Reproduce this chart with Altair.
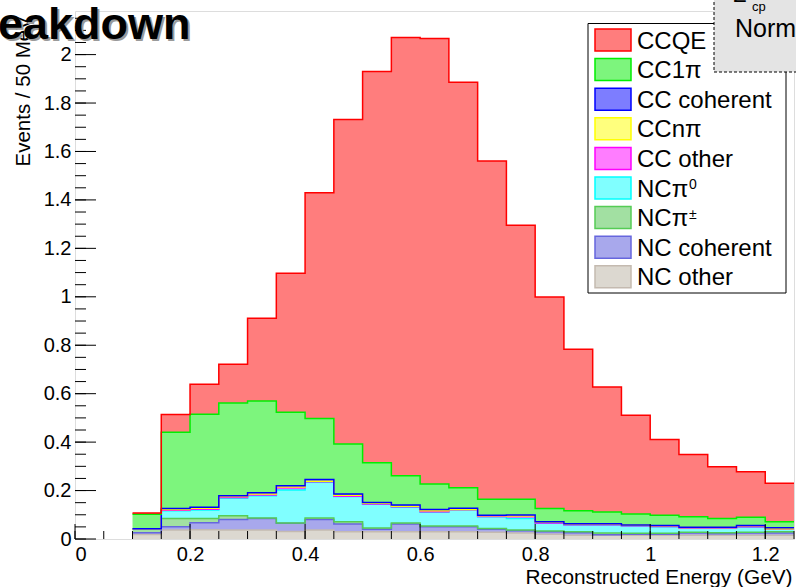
import altair as alt
import numpy as np
import pandas as pd

# ---- data -------------------------------------------------------------
bin_lo = [0.10, 0.15, 0.20, 0.25, 0.30, 0.35, 0.40, 0.45, 0.50, 0.55, 0.60, 0.65,
          0.70, 0.75, 0.80, 0.85, 0.90, 0.95, 1.00, 1.05, 1.10, 1.15, 1.20]
bin_width = 0.05

nc_other = [0.019, 0.037, 0.038, 0.037, 0.037, 0.031, 0.037, 0.030, 0.030, 0.030, 0.030, 0.030,
            0.028, 0.025, 0.020, 0.015, 0.015, 0.015, 0.015, 0.015, 0.015, 0.015, 0.015]
nc_coherent = [0.007, 0.014, 0.029, 0.044, 0.048, 0.034, 0.044, 0.032, 0.010, 0.032, 0.021, 0.021,
               0.012, 0.009, 0.010, 0.011, 0.003, 0.005, 0.005, 0.010, 0.007, 0.010, 0.010]
nc_pipm = [0.016, 0.034, 0.018, 0.015, 0.002, 0.001, 0.006, 0.009, 0.005, 0.004, 0.003, 0.003,
           0.003, 0.003, 0.003, 0.004, 0.007, 0.004, 0.004, 0.003, 0.004, 0.003, 0.005]
nc_pi0 = [0.000, 0.032, 0.035, 0.072, 0.092, 0.136, 0.147, 0.104, 0.098, 0.065, 0.056, 0.066,
          0.049, 0.048, 0.032, 0.028, 0.033, 0.030, 0.027, 0.016, 0.018, 0.022, 0.010]
cc_other = [0.000, 0.002, 0.003, 0.003, 0.003, 0.010, 0.002, 0.002, 0.002, 0.002, 0.003, 0.001,
            0.001, 0.008, 0.001, 0.001, 0.001, 0.001, 0.001, 0.001, 0.001, 0.001, 0.001]
cc_npi = [0.000, 0.003, 0.004, 0.004, 0.004, 0.003, 0.002, 0.004, 0.003, 0.002, 0.004, 0.001,
          0.003, 0.002, 0.004, 0.003, 0.003, 0.002, 0.003, 0.002, 0.002, 0.004, 0.001]
cc_coherent = [0.000, 0.004, 0.004, 0.004, 0.005, 0.005, 0.008, 0.005, 0.003, 0.005, 0.005, 0.005,
               0.002, 0.004, 0.001, 0.001, 0.001, 0.001, 0.001, 0.001, 0.001, 0.001, 0.004]
cc_1pi = [0.060, 0.315, 0.384, 0.383, 0.379, 0.303, 0.252, 0.206, 0.164, 0.121, 0.105, 0.085,
          0.066, 0.065, 0.055, 0.054, 0.048, 0.045, 0.042, 0.044, 0.037, 0.034, 0.025]
ccqe = [0.005, 0.073, 0.124, 0.160, 0.341, 0.574, 0.932, 1.340, 1.615, 1.810, 1.839, 1.674,
        1.397, 1.131, 0.873, 0.666, 0.517, 0.408, 0.313, 0.257, 0.213, 0.188, 0.159]

stack_names = ["NC other", "NC coherent", "NCπ±", "NCπ⁰", "CC other",
               "CCnπ", "CC coherent", "CC1π", "CCQE"]
stack_values = [nc_other, nc_coherent, nc_pipm, nc_pi0, cc_other,
                cc_npi, cc_coherent, cc_1pi, ccqe]
legend_names = ["CCQE", "CC1π", "CC coherent", "CCnπ", "CC other",
                "NCπ⁰", "NCπ±", "NC coherent", "NC other"]
legend_main = ["CCQE", "CC1π", "CC coherent", "CCnπ", "CC other",
               "NCπ", "NCπ", "NC coherent", "NC other"]
legend_sup = ["", "", "", "", "", "0", "±", "", ""]
fill_colors = ["#ff7d7d", "#7df57d", "#7d7dff", "#ffff7d", "#ff7dff",
               "#80ffff", "#a2e0a2", "#a8a8ec", "#dcd8d0"]
line_colors = ["#ff0000", "#00ee00", "#0000ff", "#ffff00", "#ff00ff",
               "#00ffff", "#55cc55", "#6666dd", "#c4bab0"]

x_major = [0, 0.2, 0.4, 0.6, 0.8, 1.0, 1.2]
x_minor = [round(0.05 * i, 2) for i in range(26)]
y_major = [0, 0.2, 0.4, 0.6, 0.8, 1.0, 1.2, 1.4, 1.6, 1.8, 2.0]
y_minor = [round(0.05 * i, 2) for i in range(44)]

title_text = "eakdown"
x_title = "Reconstructed Energy (GeV)"
y_title = "Events / 50 MeV"
box_line1 = "Σ"
box_sub = "cp"
box_line2 = "Norm"

# ---- build table ------------------------------------------------------
xs = bin_lo + [round(bin_lo[-1] + bin_width, 2)]
rows = []
cum = np.zeros(len(bin_lo))
for name, vals in zip(stack_names, stack_values):
    lo = cum.copy()
    hi = cum + np.array(vals)
    for i, xv in enumerate(xs):
        j = min(i, len(bin_lo) - 1)
        rows.append({"comp": name, "x": xv, "y0": lo[j], "y1": hi[j]})
    cum = hi
df = pd.DataFrame(rows)

W, H = 719, 528
FONT = "Liberation Sans"

xscale = alt.Scale(domain=[0, 1.25], nice=False, zero=False)
yscale = alt.Scale(domain=[0, 2.18], nice=False, zero=False)

x_axis = alt.Axis(values=x_major, format="~g", ticks=False, domain=False, grid=False,
                  labelFont=FONT, labelFontSize=20, labelColor="black", labelPadding=5,
                  title=x_title, titleFont=FONT, titleFontSize=20.8,
                  titleFontWeight="normal", titleColor="black",
                  titleAlign="right", titleX=717, titleY=44,
                  titleBaseline="alphabetic")
y_axis = alt.Axis(values=y_major, format="~g", ticks=False, domain=False, grid=False,
                  labelFont=FONT, labelFontSize=20, labelColor="black", labelPadding=4,
                  title=y_title, titleFont=FONT, titleFontSize=20.5,
                  titleFontWeight="normal", titleColor="black",
                  titleAngle=270, titleAlign="left", titleX=-46, titleY=155,
                  titleBaseline="alphabetic")

area = alt.Chart(df).mark_area(interpolate="step-after", opacity=1).encode(
    x=alt.X("x:Q", scale=xscale, axis=x_axis),
    y=alt.Y("y0:Q", scale=yscale, axis=y_axis, stack=None),
    y2="y1:Q",
    fill=alt.Fill("comp:N", scale=alt.Scale(domain=legend_names, range=fill_colors),
                  legend=None),
)

lines = alt.Chart(df).mark_line(interpolate="step-after", strokeWidth=1.5).encode(
    x=alt.X("x:Q", scale=xscale),
    y=alt.Y("y1:Q", scale=yscale),
    stroke=alt.Stroke("comp:N", scale=alt.Scale(domain=legend_names, range=line_colors),
                      legend=None),
)

xmaj = alt.Chart(pd.DataFrame({"v": x_major})).mark_rule(color="black", strokeWidth=1).encode(
    x=alt.X("v:Q", scale=xscale), y=alt.value(H), y2=alt.value(H - 15))
xmin = alt.Chart(pd.DataFrame({"v": x_minor})).mark_rule(color="black", strokeWidth=1).encode(
    x=alt.X("v:Q", scale=xscale), y=alt.value(H), y2=alt.value(H - 8))
ymaj = alt.Chart(pd.DataFrame({"v": y_major})).mark_rule(color="black", strokeWidth=1).encode(
    y=alt.Y("v:Q", scale=yscale), x=alt.value(0), x2=alt.value(21))
ymin = alt.Chart(pd.DataFrame({"v": y_minor})).mark_rule(color="black", strokeWidth=1).encode(
    y=alt.Y("v:Q", scale=yscale), x=alt.value(0), x2=alt.value(11))

# ---- legend (drawn as marks so the text box can sit on top of it) -------
one = pd.DataFrame({"a": [1]})
leg_layers = [
    alt.Chart(one).mark_rect(fill="white", stroke="black", strokeWidth=1).encode(
        x=alt.value(513), x2=alt.value(711), y=alt.value(12.5), y2=alt.value(282))
]
row0, pitch = 29.0, 29.6
for i, name in enumerate(legend_names):
    cy = row0 + i * pitch
    leg_layers.append(
        alt.Chart(pd.DataFrame({"t": [name]})).mark_rect(
            fill=fill_colors[i], stroke=line_colors[i], strokeWidth=1.5).encode(
            x=alt.value(520), x2=alt.value(556), y=alt.value(cy - 11), y2=alt.value(cy + 11)))
    leg_layers.append(
        alt.Chart(pd.DataFrame({"t": [legend_main[i]]})).mark_text(
            align="left", baseline="alphabetic", font=FONT, fontSize=24, color="black").encode(
            text="t:N", x=alt.value(562), y=alt.value(cy + 8.5)))
    if legend_sup[i]:
        leg_layers.append(
            alt.Chart(pd.DataFrame({"t": [legend_sup[i]]})).mark_text(
                align="left", baseline="alphabetic", font=FONT, fontSize=14, color="black").encode(
                text="t:N", x=alt.value(614), y=alt.value(cy + 1)))

tdf = pd.DataFrame({"t": [title_text]})
title_shadow = alt.Chart(tdf).mark_text(
    align="left", baseline="alphabetic", font=FONT, fontSize=45, fontWeight="bold",
    color="#9a9a9a").encode(text="t:N", x=alt.value(-75), y=alt.value(30))
title_main = alt.Chart(tdf).mark_text(
    align="left", baseline="alphabetic", font=FONT, fontSize=45, fontWeight="bold",
    color="black").encode(text="t:N", x=alt.value(-77), y=alt.value(27.5))

box = alt.Chart(one).mark_rect(
    fill="#e4e4e4", stroke="black", strokeWidth=1, strokeDash=[3, 2]).encode(
    x=alt.value(639), x2=alt.value(760), y=alt.value(-30), y2=alt.value(61))
box_t1 = alt.Chart(pd.DataFrame({"t": [box_line1]})).mark_text(
    align="left", baseline="alphabetic", font=FONT, fontSize=22, color="black").encode(
    text="t:N", x=alt.value(658), y=alt.value(-9))
box_t2 = alt.Chart(pd.DataFrame({"t": [box_sub]})).mark_text(
    align="left", baseline="alphabetic", font=FONT, fontSize=13, color="black").encode(
    text="t:N", x=alt.value(677), y=alt.value(0))
box_t3 = alt.Chart(pd.DataFrame({"t": [box_line2]})).mark_text(
    align="left", baseline="alphabetic", font=FONT, fontSize=25, color="black").encode(
    text="t:N", x=alt.value(660), y=alt.value(26))

chart = alt.layer(
    area, lines, xmaj, xmin, ymaj, ymin, *leg_layers, box, box_t1, box_t2, box_t3,
    title_shadow, title_main,
).properties(
    width=W, height=H,
    autosize=alt.AutoSizeParams(type="none"),
    padding={"left": 75, "top": 11, "right": 2, "bottom": 48},
).configure_view(
    stroke="black", strokeWidth=1
).configure(background="white")

chart.save("out.html", embed_options={"renderer": "svg", "actions": False})
